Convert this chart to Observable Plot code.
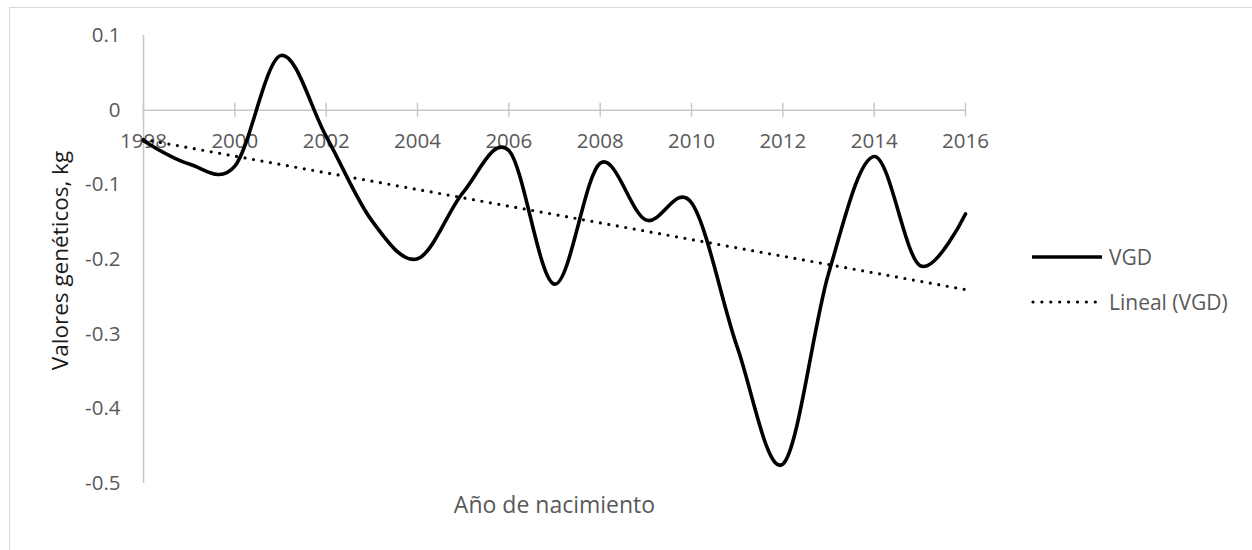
<!DOCTYPE html>
<html>
<head>
<meta charset="utf-8">
<script src="https://cdn.jsdelivr.net/npm/d3@7"></script>
<script src="https://cdn.jsdelivr.net/npm/@observablehq/plot@0.6"></script>
<style>
  html, body { margin: 0; padding: 0; background: #fff; }
  #wrap { position: relative; width: 1252px; height: 550px; overflow: hidden; font-family: "Open Sans", sans-serif; }
  #border { position: absolute; left: 9px; top: 7px; width: 1300px; height: 600px; border-top: 1.5px solid #d9d9d9; border-left: 1.5px solid #d9d9d9; }
  #chart { position: absolute; left: 0; top: 0; }
  #legend { position: absolute; left: 1030px; top: 234px; }
  .item { display: flex; align-items: center; height: 45px; font-size: 21px; color: #595959; }
  .item svg { margin-right: 5px; }
</style>
</head>
<body>
<div id="wrap">
  <div id="border"></div>
  <div id="chart"></div>
  <div id="legend"></div>
</div>
<script>
// Data
const years = [1998, 1999, 2000, 2001, 2002, 2003, 2004, 2005, 2006, 2007, 2008, 2009, 2010, 2011, 2012, 2013, 2014, 2015, 2016];
const vgd   = [-0.041, -0.072, -0.075, 0.073, -0.035, -0.148, -0.199, -0.110, -0.054, -0.233, -0.071, -0.147, -0.124, -0.317, -0.474, -0.219, -0.062, -0.208, -0.139];
const xTicks = [1998, 2000, 2002, 2004, 2006, 2008, 2010, 2012, 2014, 2016];
const yTicks = [0.1, 0, -0.1, -0.2, -0.3, -0.4, -0.5];
const seriesName = "VGD";
const trendName = "Lineal (VGD)";
const xTitle = "Año de nacimiento";
const yTitle = "Valores genéticos, kg";

const data = years.map((y, i) => ({year: y, value: vgd[i]}));

const gray = "#595959";
const axisGray = "#c8c8c8";

const chart = Plot.plot({
  width: 1252,
  height: 550,
  marginLeft: 143,
  marginRight: 287,
  marginTop: 35,
  marginBottom: 67,
  style: {fontFamily: "'Open Sans', sans-serif", fontSize: "20px", background: "transparent", overflow: "visible"},
  x: {domain: [1998, 2016], axis: null},
  y: {domain: [-0.5, 0.1], axis: null},
  marks: [
    // y axis line
    Plot.ruleX([1998], {stroke: axisGray, strokeWidth: 1.5}),
    // y tick labels
    Plot.axisY({ticks: yTicks, tickSize: 0, tickPadding: 23, fontSize: 20.5, fill: gray, tickFormat: d => String(d), label: null}),
    // x axis at zero with crossing ticks
    Plot.ruleY([0], {stroke: axisGray, strokeWidth: 1.5}),
    Plot.ruleX(xTicks, {x: d => d, y1: 0, y2: 0, insetTop: -7, insetBottom: -7, stroke: axisGray, strokeWidth: 1.5}),
    Plot.text(xTicks, {x: d => d, y: 0, dy: 31, text: d => String(d), fill: gray, fontSize: 20.5}),
    // trend line
    Plot.linearRegressionY(data, {x: "year", y: "value", ci: 0, stroke: "black", strokeWidth: 3.2, strokeLinecap: "round", strokeDasharray: "0,8.6"}),
    // series
    Plot.line(data, {x: "year", y: "value", curve: "cardinal", stroke: "black", strokeWidth: 3.6}),
    // titles
    Plot.text([xTitle], {frameAnchor: "bottom", lineAnchor: "middle", textAnchor: "middle", dy: 22, fill: gray, fontSize: 23}),
    Plot.text([yTitle], {frameAnchor: "left", lineAnchor: "middle", textAnchor: "middle", dx: -83, dy: 1, rotate: -90, fill: "#1a1a1a", fontSize: 22.5})
  ]
});
document.getElementById("chart").appendChild(chart);

// Legend
const legend = document.getElementById("legend");
legend.innerHTML = `
  <div class="item"><svg width="74" height="10"><line x1="2" x2="72" y1="5" y2="5" stroke="black" stroke-width="3.6"/></svg><span>${seriesName}</span></div>
  <div class="item"><svg width="74" height="10"><line x1="3" x2="66" y1="5" y2="5" stroke="black" stroke-width="3.2" stroke-linecap="round" stroke-dasharray="0,8.9"/></svg><span>${trendName}</span></div>
`;
</script>
</body>
</html>
